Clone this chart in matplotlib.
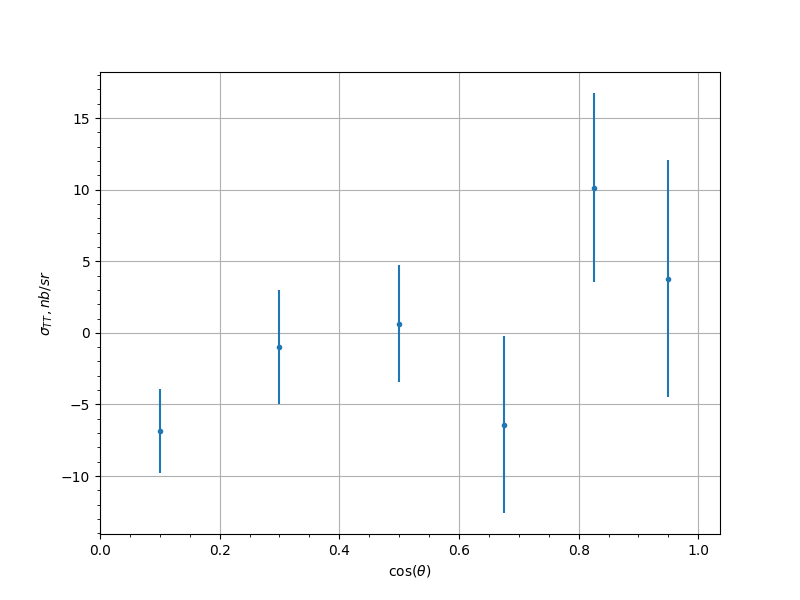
import matplotlib
matplotlib.use("Agg")
import matplotlib.pyplot as plt

cos_theta = [0.1, 0.3, 0.5, 0.675, 0.825, 0.95]
sigma_tt = [-6.86, -0.98, 0.65, -6.40, 10.15, 3.78]
sigma_err = [2.94, 4.0, 4.1, 6.18, 6.6, 8.27]

fig, ax = plt.subplots(figsize=(8, 6), dpi=100)
ax.errorbar(cos_theta, sigma_tt, yerr=sigma_err, fmt='.')
ax.set_xlim(0, 1.0363)
ax.minorticks_on()
ax.grid(True, which='major')
ax.set_xlabel(r'$\cos(\theta)$')
ax.set_ylabel(r'$\sigma_{TT}, nb/sr$')
fig.savefig('out.png')
